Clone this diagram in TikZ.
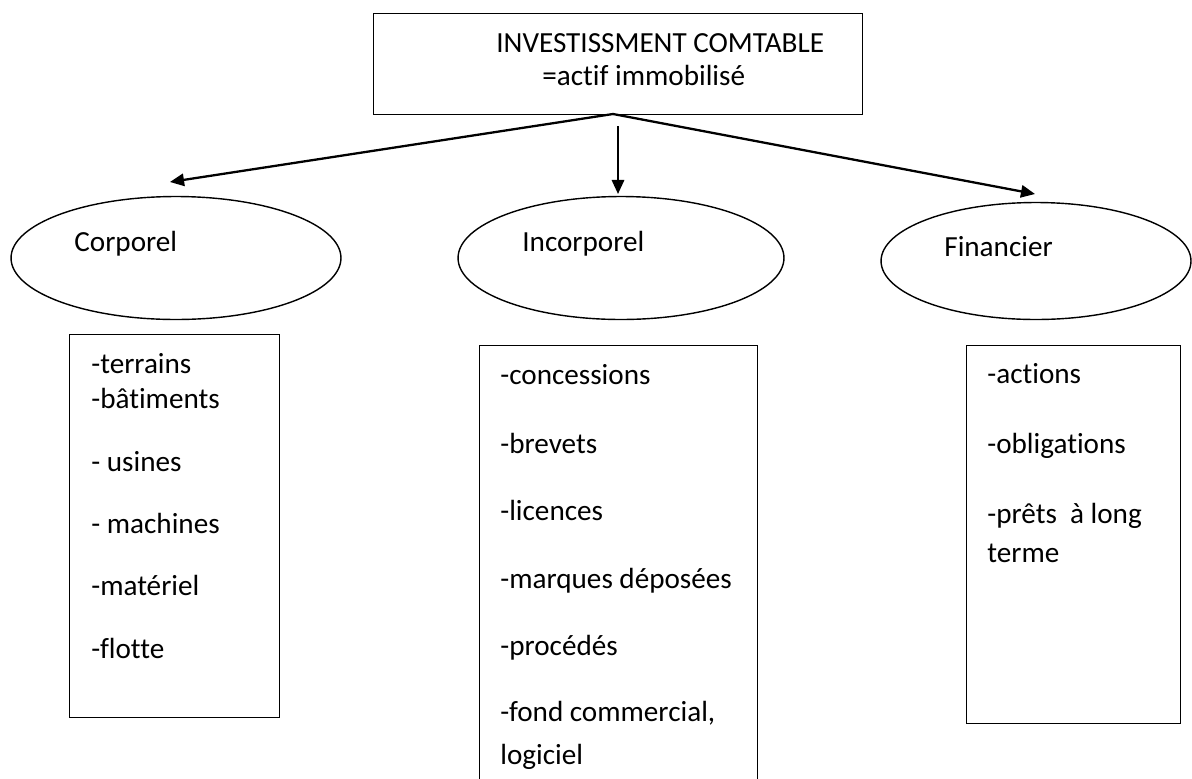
\documentclass[tikz,border=0pt]{standalone}
\usepackage{fontspec}
\setmainfont{Carlito}[Ligatures={NoCommon}]
\usetikzlibrary{shapes.geometric,arrows.meta}

\begin{document}
\begin{tikzpicture}[x=0.02cm, y=-0.02cm,
    cadre/.style={draw, line width=0.8pt, rectangle, anchor=north west, inner sep=0pt},
    bulle/.style={draw, line width=0.8pt, ellipse, inner sep=0pt},
    texte/.style={anchor=base west, inner sep=0pt, font=\fontsize{16.6}{20}\selectfont},
    fleche/.style={line width=1.3pt, -{Triangle[length=8pt, width=7pt]}}]

    % Page
    \useasboundingbox (0,0) rectangle (1192,778);

    % Title box
    \node[cadre, minimum width=9.78cm, minimum height=2.02cm] (invest) at (373,13) {};
    \node[texte] (ligneA) at (496,52) {INVESTISSMENT COMTABLE};
    \node[texte] (ligneB) at (542,85) {=actif immobilisé};

    % Ellipses
    \node[bulle, minimum width=6.6cm, minimum height=2.46cm] (corp) at (176,258) {};
    \node[bulle, minimum width=6.52cm, minimum height=2.46cm] (incorp) at (621,258) {};
    \node[bulle, minimum width=6.2cm, minimum height=2.34cm] (fin) at (1036,261) {};
    \node[texte] (corpT) at (74,251) {Corporel};
    \node[texte] (incorpT) at (522,251) {Incorporel};
    \node[texte] (finT) at (944,256) {Financier};

    % Arrows
    \coordinate (depart) at (613,114);
    \coordinate (departM) at (618,126);
    \coordinate (pointeG) at (170,182);
    \coordinate (pointeM) at (618,194);
    \coordinate (pointeD) at (1035,194);
    \draw[fleche] (depart) -- (pointeG);
    \draw[fleche] (departM) -- (pointeM);
    \draw[fleche] (depart) -- (pointeD);

    % Corporel list
    \node[cadre, minimum width=4.2cm, minimum height=7.66cm] (boiteCorp) at (69,334) {};
    \node[texte] (c1) at (91,373) {-terrains};
    \node[texte] (c2) at (91,408) {-bâtiments};
    \node[texte] (c3) at (91,471) {- usines};
    \node[texte] (c4) at (91,533) {- machines};
    \node[texte] (c5) at (91,595) {-matériel};
    \node[texte] (c6) at (91,658) {-flotte};

    % Incorporel list
    \node[cadre, minimum width=5.56cm, minimum height=8.9cm] (boiteIncorp) at (479,345) {};
    \node[texte] (i1) at (500,384) {-concessions};
    \node[texte] (i2) at (500,453) {-brevets};
    \node[texte] (i3) at (500,520) {-licences};
    \node[texte] (i4) at (500,588) {-marques déposées};
    \node[texte] (i5) at (500,655) {-procédés};
    \node[texte] (i6) at (500,721) {-fond commercial,};
    \node[texte] (i7) at (500,764) {logiciel};

    % Financier list
    \node[cadre, minimum width=4.28cm, minimum height=7.56cm] (boiteFin) at (966,345) {};
    \node[texte] (f1) at (987,383) {-actions};
    \node[texte] (f2) at (987,453) {-obligations};
    \node[texte] (f3) at (987,523) {-prêts\ \ à long};
    \node[texte] (f4) at (987,562) {terme};

\end{tikzpicture}
\end{document}
